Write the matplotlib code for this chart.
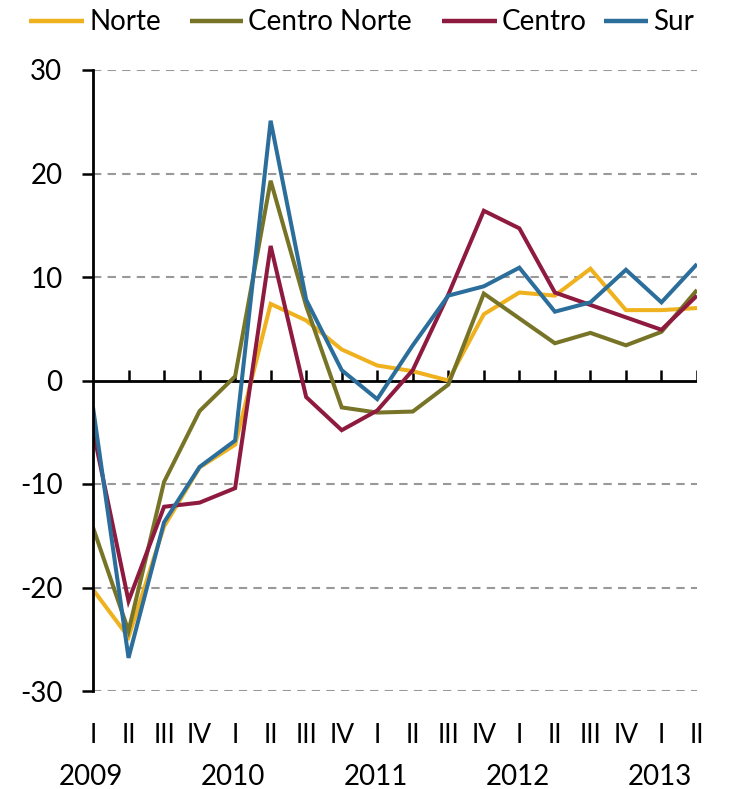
import matplotlib
matplotlib.use("Agg")
import matplotlib.pyplot as plt
import matplotlib.transforms as mtransforms
from matplotlib.lines import Line2D

plt.rcParams['font.family'] = ['Lato', 'DejaVu Sans']

quarters = ["I", "II", "III", "IV", "I", "II", "III", "IV", "I", "II", "III", "IV",
            "I", "II", "III", "IV", "I", "II"]
years = ["2009", "2010", "2011", "2012", "2013"]

norte = [-20.2, -24.8, -14.1, -8.4, -6.2, 7.4, 5.8, 3.0, 1.45, 0.9, 0.0, 6.4,
         8.5, 8.2, 10.8, 6.8, 6.8, 7.0]
centro_norte = [-14.2, -24.2, -9.8, -2.95, 0.4, 19.3, 7.2, -2.6, -3.1, -3.0, -0.4, 8.4,
                6.0, 3.6, 4.6, 3.4, 4.7, 8.75]
centro = [-4.8, -21.3, -12.2, -11.8, -10.4, 13.0, -1.6, -4.8, -2.9, 1.0, 8.3, 16.4,
          14.7, 8.5, 7.3, 6.1, 4.9, 8.2]
sur = [-2.6, -26.8, -13.7, -8.35, -5.8, 25.1, 7.8, 1.0, -1.8, 3.4, 8.2, 9.1,
       10.9, 6.65, 7.55, 10.7, 7.55, 11.25]

names = ["Norte", "Centro Norte", "Centro", "Sur"]
colors = ["#EFB21E", "#777428", "#8E1B3F", "#2B6E9B"]
data = [norte, centro_norte, centro, sur]

yticks = [-30, -20, -10, 0, 10, 20, 30]

W, H = 733, 789
fig = plt.figure(figsize=(W/100, H/100), dpi=100)
ax = fig.add_axes([93/W, 1-691/H, (697-93)/W, (691-70)/H])

x = list(range(len(quarters)))

# gridlines
for yv in yticks:
    if yv != 0:
        ax.axhline(yv, color="#999999", lw=1.5, ls=(0, (4, 3)), zorder=1)

# zero line with upward ticks
ax.axhline(0, color="black", lw=2, zorder=2)
for xi in x[1:]:
    ax.plot([xi, xi], [0, 1.0], color="black", lw=1.8, zorder=2, solid_capstyle="butt")

for name, vals, col in zip(names, data, colors):
    ax.plot(x, vals, color=col, lw=2.9, label=name, zorder=3,
            solid_joinstyle="miter", solid_capstyle="butt")

ax.set_xlim(0, len(quarters) - 1)
ax.set_ylim(-30, 30)
ax.set_yticks(yticks)
ax.set_yticklabels([str(v) for v in yticks], fontsize=20)
ax.tick_params(axis="y", direction="out", length=8, width=1.8, pad=14)
ax.set_xticks([])

for s in ["top", "right", "bottom"]:
    ax.spines[s].set_visible(False)
ax.spines["left"].set_linewidth(2)
ax.spines["left"].set_zorder(4)

trans = mtransforms.blended_transform_factory(ax.transData, fig.transFigure)
for xi, q in zip(x, quarters):
    ax.text(xi, 1 - 743/H, q, transform=trans, ha="center", va="baseline", fontsize=19)
for k, yr in enumerate(years):
    ax.text(4*k - 0.05, 1 - 785/H, yr, transform=trans, ha="center", va="baseline", fontsize=20)

# legend drawn manually in figure pixel coordinates
handle_x = [(29, 84), (190, 243), (442, 497), (604, 648)]
for (x0, x1), name, col in zip(handle_x, names, colors):
    fig.add_artist(Line2D([x0/W, x1/W], [1 - 21/H, 1 - 21/H], color=col, lw=3.2,
                          transform=fig.transFigure, solid_capstyle="butt"))
    fig.text((x1 + 5)/W, 1 - 30/H, name, ha="left", va="baseline", fontsize=20)

fig.savefig("out.png", dpi=100)
